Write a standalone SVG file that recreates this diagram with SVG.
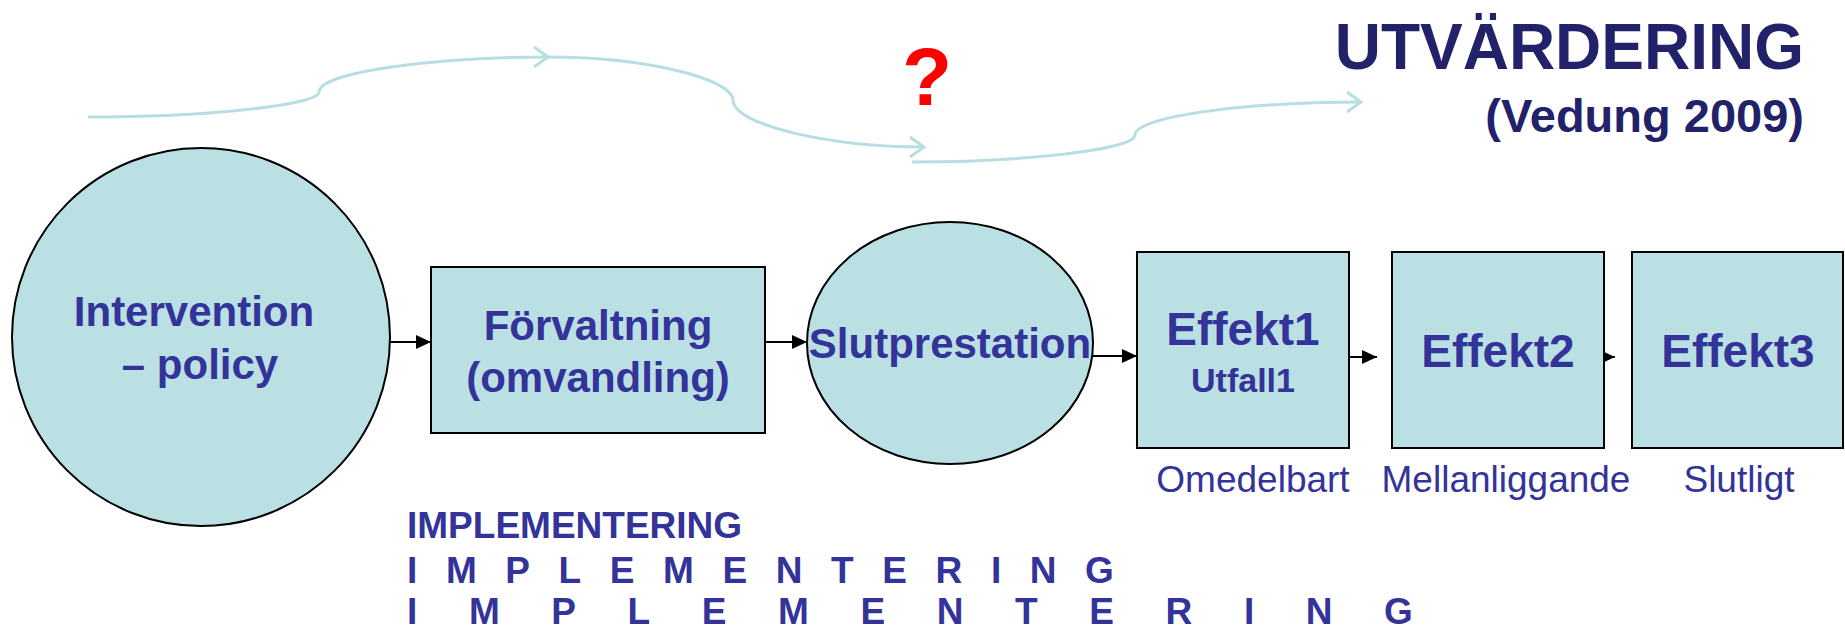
<svg xmlns="http://www.w3.org/2000/svg" width="1845" height="629" viewBox="0 0 1845 629">
<style>
.node{fill:#BAE0E3;stroke:#000;stroke-width:2}
.t{font-family:"Liberation Sans",Arial,sans-serif;font-weight:bold;fill:#333399;text-anchor:middle}
.lbl{font-family:"Liberation Sans",Arial,sans-serif;fill:#333399;text-anchor:middle;font-size:37px}
.imp{font-family:"Liberation Sans",Arial,sans-serif;font-weight:bold;fill:#333399;font-size:37px}
.flow{fill:none;stroke:#B7DEE1;stroke-width:3}
.conn{stroke:#000;stroke-width:2;fill:none}
</style>
<defs>
<marker id="ah" markerUnits="userSpaceOnUse" markerWidth="16" markerHeight="14" refX="15" refY="7" orient="auto">
<path d="M0,0 L15,7 L0,14 Z" fill="#000"/>
</marker>
<marker id="chev" markerUnits="userSpaceOnUse" markerWidth="20" markerHeight="24" refX="16" refY="11" orient="auto">
<path d="M2,1 L16,11 L2,21" fill="none" stroke="#B7DEE1" stroke-width="3"/>
</marker>
</defs>
<rect width="1845" height="629" fill="#fff"/>

<g id="flow-curves">
<path class="flow" d="M88,117 C200,117 318,106 319,92 C320,70 450,57 548,57" marker-end="url(#chev)"/>
<path class="flow" d="M548,57 C650,57 733,80 733,100 C733,125 830,147 924,147" marker-end="url(#chev)"/>
<path class="flow" d="M912,162 C1020,162 1135,150 1135,135 C1135,116 1250,102 1361,102" marker-end="url(#chev)"/>
</g>

<text x="927" y="105" font-family="Liberation Sans,Arial,sans-serif" font-weight="bold" font-size="82" fill="#FF0000" text-anchor="middle">?</text>

<g id="title">
<text x="1804" y="69" font-family="Liberation Sans,Arial,sans-serif" font-weight="bold" font-size="64" fill="#22226A" text-anchor="end">UTVÄRDERING</text>
<text x="1804" y="132" font-family="Liberation Sans,Arial,sans-serif" font-weight="bold" font-size="47" fill="#22226A" text-anchor="end">(Vedung 2009)</text>
</g>

<g id="connectors">
<line class="conn" x1="387" y1="342" x2="431" y2="342" marker-end="url(#ah)"/>
<line class="conn" x1="764" y1="342" x2="807" y2="342" marker-end="url(#ah)"/>
<line class="conn" x1="1077" y1="356" x2="1137" y2="356" marker-end="url(#ah)"/>
<line class="conn" x1="1348" y1="357" x2="1377" y2="357" marker-end="url(#ah)"/>
<line class="conn" x1="1588" y1="357" x2="1615" y2="357" marker-end="url(#ah)"/>
</g>

<g id="intervention">
<circle class="node" cx="201" cy="337" r="189"/>
<text class="t" x="194" y="326" font-size="42">Intervention</text>
<text class="t" x="200" y="379" font-size="42">– policy</text>
</g>

<g id="forvaltning">
<rect class="node" x="431" y="267" width="334" height="166"/>
<text class="t" x="598" y="340" font-size="42">Förvaltning</text>
<text class="t" x="598" y="392" font-size="42">(omvandling)</text>
</g>

<g id="slutprestation">
<ellipse class="node" cx="950" cy="343" rx="143" ry="121"/>
<text class="t" x="950" y="358" font-size="42">Slutprestation</text>
</g>

<g id="effekt1">
<rect class="node" x="1137" y="252" width="212" height="196"/>
<text class="t" x="1243" y="345" font-size="46">Effekt1</text>
<text class="t" x="1243" y="392" font-size="34">Utfall1</text>
</g>

<g id="effekt2">
<rect class="node" x="1392" y="252" width="212" height="196"/>
<text class="t" x="1498" y="367" font-size="46">Effekt2</text>
</g>

<g id="effekt3">
<rect class="node" x="1632" y="252" width="211" height="196"/>
<text class="t" x="1738" y="367" font-size="46">Effekt3</text>
</g>

<g id="labels">
<text class="lbl" x="1253" y="492">Omedelbart</text>
<text class="lbl" x="1506" y="492">Mellanliggande</text>
<text class="lbl" x="1739" y="492">Slutligt</text>
</g>

<g id="implementering">
<text class="imp" x="407" y="538">IMPLEMENTERING</text>
<text class="imp" x="407" y="583" letter-spacing="28.6">IMPLEMENTERING</text>
<text class="imp" x="407" y="624" letter-spacing="51.6">IMPLEMENTERING</text>
</g>
</svg>
